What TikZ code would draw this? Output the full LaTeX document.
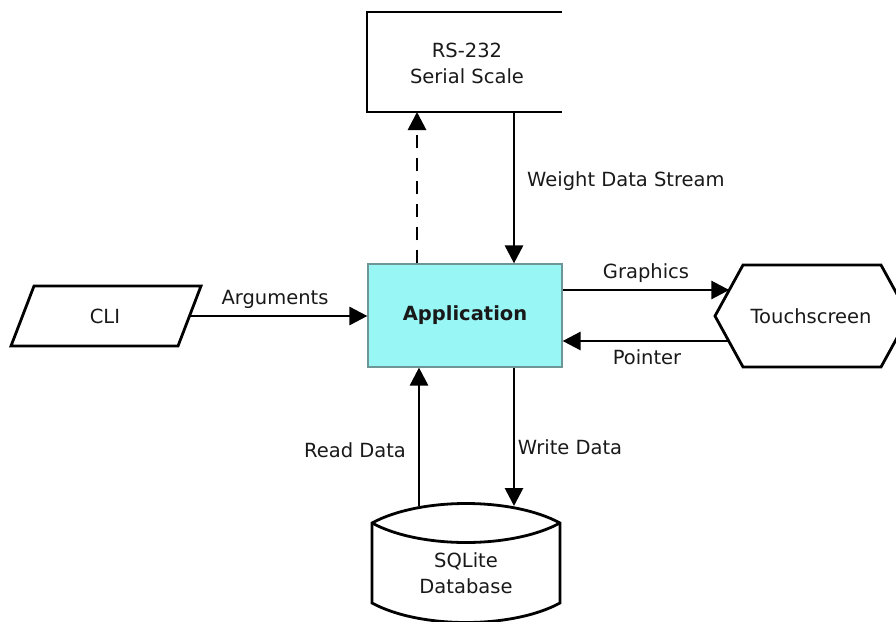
\documentclass[tikz,border=0pt]{standalone}
\usepackage{fontspec}
\setmainfont{DejaVu Sans}
\usetikzlibrary{arrows.meta}
\definecolor{appfill}{RGB}{152,246,244}
\definecolor{appline}{RGB}{110,150,150}
\definecolor{txt}{RGB}{25,25,25}
\begin{document}
\begin{tikzpicture}[x=1pt,y=-1pt,
  every node/.style={text=txt, font=\fontsize{19.5}{26}\selectfont, inner sep=0pt},
  shapeline/.style={line width=2.8pt, line join=miter},
  conn/.style={line width=2.8pt, -{Triangle[length=18pt,width=18pt]}},
  lbl/.style={text=txt}]
\useasboundingbox (0,0) rectangle (896,621);

% RS-232 box (cropped on the right)
\draw[shapeline] (562,12) -- (367,12) -- (367,112) -- (562,112);
\node[align=center] (rs) at (467,63) {RS-232\\Serial Scale};
\coordinate (rsA) at (417,112);
\coordinate (rsB) at (514,112);

% Application
\node[draw=appline, fill=appfill, line width=1.2pt, minimum width=194pt, minimum height=103pt,
      font=\fontsize{19.5}{22}\selectfont\bfseries] (app) at (465,315.5) {Application};

% CLI parallelogram
\draw[shapeline] (34,286) -- (201,286) -- (178,346) -- (11,346) -- cycle;
\node (cli) at (105,316) {CLI};
\coordinate (cliR) at (189.5,316);

% Touchscreen hexagon
\draw[shapeline] (715,316) -- (743,265) -- (881,265) -- (909,316) -- (881,367) -- (743,367) -- cycle;
\node (ts) at (811,316) {Touchscreen};
\coordinate (tsG) at (729.3,290);
\coordinate (tsP) at (728.7,341);

% SQLite database
\draw[shapeline, fill=white] (372,523) .. controls (420,497) and (512,497) .. (560,523)
   -- (560,603) .. controls (512,629) and (420,629) .. (372,603) -- cycle;
\draw[shapeline] (372,523) .. controls (420,549) and (512,549) .. (560,523);
\node[align=center] (db) at (466,573) {SQLite\\Database};
\coordinate (dbA) at (419,506);
\coordinate (dbB) at (514,506);

% connectors
\draw[conn, dash pattern=on 13pt off 10pt] (app.north -| rsA) -- (rsA);
\draw[conn] (rsB) -- (app.north -| rsB);
\draw[conn] (cliR) -- (app.west |- cliR);
\draw[conn] (app.east |- tsG) -- (tsG);
\draw[conn] (tsP) -- (app.east |- tsP);
\draw[conn] (dbA) -- (app.south -| dbA);
\draw[conn] (app.south -| dbB) -- (dbB);

% labels
\node[lbl] (l1) at (275,299) {Arguments};
\node[lbl, anchor=west] (l2) at (527,181) {Weight Data Stream};
\node[lbl] (l3) at (646,273) {Graphics};
\node[lbl] (l4) at (647,357) {Pointer};
\node[lbl] (l5) at (355,450) {Read Data};
\node[lbl] (l6) at (570,447) {Write Data};
\end{tikzpicture}
\end{document}
